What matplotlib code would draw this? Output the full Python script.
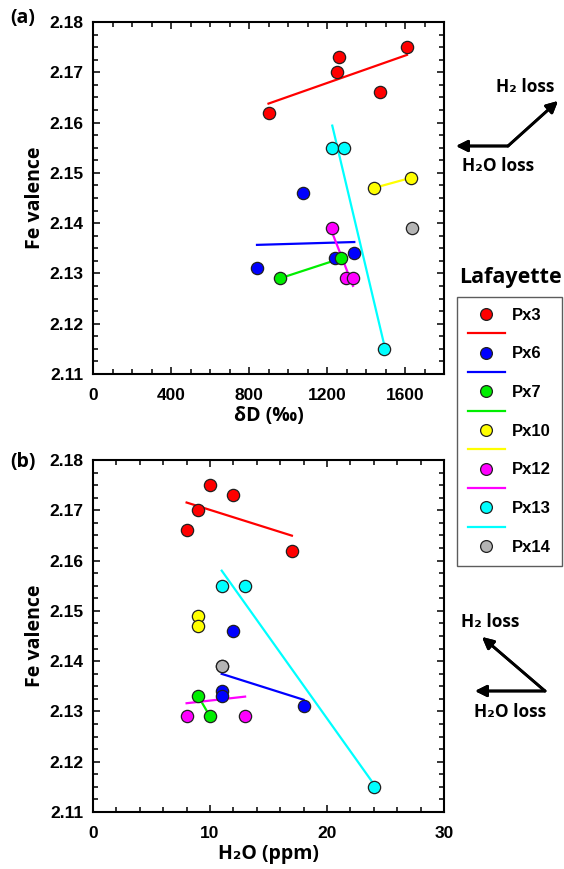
import numpy as np
import matplotlib.pyplot as plt
from matplotlib.lines import Line2D

plt.rcParams['font.family'] = ['Open Sans', 'DejaVu Sans']
plt.rcParams['font.weight'] = 'bold'

samples = ['Px3', 'Px6', 'Px7', 'Px10', 'Px12', 'Px13', 'Px14']
colors = ['#ff0000', '#0000ff', '#00ee00', '#ffff00', '#ff00ff', '#00ffff', '#b4b4b4']

# delta D (permil) vs Fe valence
dD = {
    'Px3': [900, 1260, 1250, 1470, 1610],
    'Px6': [1077, 841, 1241, 1340],
    'Px7': [957, 1273],
    'Px10': [1441, 1629],
    'Px12': [1226, 1295, 1333],
    'Px13': [1227, 1289, 1490],
    'Px14': [1634],
}
fe_a = {
    'Px3': [2.162, 2.173, 2.170, 2.166, 2.175],
    'Px6': [2.146, 2.131, 2.133, 2.134],
    'Px7': [2.129, 2.133],
    'Px10': [2.147, 2.149],
    'Px12': [2.139, 2.129, 2.129],
    'Px13': [2.155, 2.155, 2.115],
    'Px14': [2.139],
}
# H2O (ppm) vs Fe valence
h2o = {
    'Px3': [10, 12, 9, 8, 17],
    'Px6': [12, 11, 11, 18],
    'Px7': [9, 10],
    'Px10': [9, 9],
    'Px12': [11, 8, 13],
    'Px13': [11, 13, 24],
    'Px14': [11],
}
fe_b = {
    'Px3': [2.175, 2.173, 2.170, 2.166, 2.162],
    'Px6': [2.146, 2.134, 2.133, 2.131],
    'Px7': [2.133, 2.129],
    'Px10': [2.149, 2.147],
    'Px12': [2.139, 2.129, 2.129],
    'Px13': [2.155, 2.155, 2.115],
    'Px14': [2.139],
}

W, H = 564, 869
fig = plt.figure(figsize=(W / 100, H / 100), dpi=100)
ax1 = fig.add_axes([93 / W, 1 - 374 / H, 351 / W, 352 / H])
ax2 = fig.add_axes([93 / W, 1 - 812 / H, 351 / W, 352 / H])

tickfont = ['Liberation Sans', 'DejaVu Sans']


def panel(ax, xd, yd, xlim, xmajor, xminor, xlabel):
    # regression line per sample over its own x range
    for name, c in zip(samples, colors):
        x = np.array(xd[name], float)
        y = np.array(yd[name], float)
        if len(x) > 1 and np.ptp(x) > 0:
            k, b = np.polyfit(x, y, 1)
            xx = np.array([x.min(), x.max()])
            ax.plot(xx, k * xx + b, color=c, lw=1.6, zorder=2)
    for name, c in zip(samples, colors):
        ax.scatter(xd[name], yd[name], s=78, color=c, edgecolor='#202020',
                   linewidth=0.9, zorder=3)
    ax.set_xlim(*xlim)
    ax.set_ylim(2.11, 2.18)
    ax.set_xticks(np.arange(xlim[0], xlim[1] + 0.1, xmajor))
    ax.set_xticks(np.arange(xlim[0], xlim[1] + 0.1, xminor), minor=True)
    ax.set_yticks(np.arange(2.11, 2.1801, 0.01))
    ax.set_yticks(np.arange(2.11, 2.1801, 0.0025), minor=True)
    ax.set_yticklabels(['%.2f' % v for v in np.arange(2.11, 2.1801, 0.01)])
    ax.tick_params(which='both', direction='in', top=True, right=True, width=1.1)
    ax.tick_params(which='major', length=5)
    ax.tick_params(which='minor', length=3.5)
    ax.tick_params(axis='x', pad=10)
    ax.tick_params(axis='y', pad=7)
    for lab in ax.get_xticklabels() + ax.get_yticklabels():
        lab.set_family(tickfont)
        lab.set_fontsize(12.5)
        lab.set_fontweight('bold')
    for sp in ax.spines.values():
        sp.set_linewidth(1.5)
    ax.set_xlabel(xlabel, fontsize=14, fontweight='bold', labelpad=2)
    ax.set_ylabel('Fe valence', fontsize=14, fontweight='bold', labelpad=3)


panel(ax1, dD, fe_a, (0, 1800), 400, 100, 'δD (‰)')
panel(ax2, h2o, fe_b, (0, 30), 10, 2, 'H₂O (ppm)')

fig.text(10 / W, 1 - 18 / H, '(a)', fontsize=14, fontweight='bold', va='center')
fig.text(10 / W, 1 - 462 / H, '(b)', fontsize=14, fontweight='bold', va='center')

# arrows
aprops = dict(arrowstyle='-|>', lw=2, color='black', mutation_scale=17,
              shrinkA=0, shrinkB=0)


def arrow(x0, y0, x1, y1):
    fig.add_artist(plt.annotate('', xy=(x1, H - y1), xytext=(x0, H - y0),
                                xycoords='figure pixels', textcoords='figure pixels',
                                arrowprops=aprops))


arrow(508, 146, 456, 146)
arrow(508, 146, 558, 101)
fig.text(525 / W, 1 - 87 / H, 'H₂ loss', fontsize=12.5, fontweight='bold',
         ha='center', va='center')
fig.text(498 / W, 1 - 166 / H, 'H₂O loss', fontsize=12.5, fontweight='bold',
         ha='center', va='center')

arrow(545, 691, 475, 691)
arrow(545, 691, 482, 637)
fig.text(490 / W, 1 - 622 / H, 'H₂ loss', fontsize=12.5, fontweight='bold',
         ha='center', va='center')
fig.text(510 / W, 1 - 712 / H, 'H₂O loss', fontsize=12.5, fontweight='bold',
         ha='center', va='center')

# legend: marker row then line row for each sample
handles, labels = [], []
for name, c in zip(samples, colors):
    handles.append(Line2D([], [], ls='none', marker='o', ms=8.5, mfc=c,
                          mec='#202020', mew=0.9))
    labels.append(name)
    if name != 'Px14':
        handles.append(Line2D([], [], color=c, lw=1.6))
        labels.append('')
leg = fig.legend(handles, labels, loc='upper left',
                 bbox_to_anchor=(457 / W, 1 - 297 / H),
                 prop={'family': tickfont, 'size': 12, 'weight': 'bold'},
                 frameon=True, fancybox=False, edgecolor='#333333',
                 handlelength=2.2, handletextpad=0.45, labelspacing=0.26,
                 borderpad=0.65, borderaxespad=0)
leg.get_frame().set_linewidth(1.0)
fig.text(510 / W, 1 - 278 / H, 'Lafayette', fontsize=15.5, fontweight='bold',
         ha='center', va='center')

fig.savefig('out.png', dpi=100)
